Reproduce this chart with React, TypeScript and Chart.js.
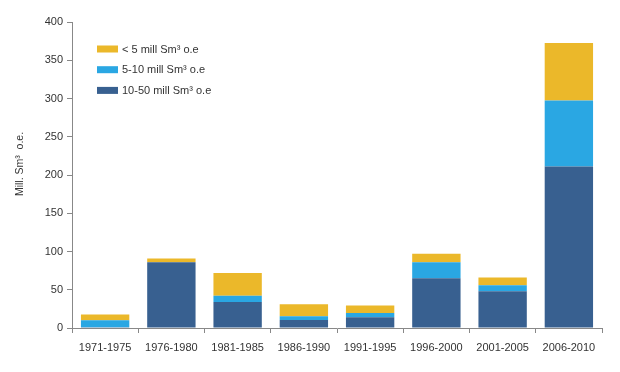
import React, { useEffect, useRef } from "react";
import { Chart, registerables } from "chart.js";

Chart.register(...registerables);

const categories = ["1971-1975", "1976-1980", "1981-1985", "1986-1990", "1991-1995", "1996-2000", "2001-2005", "2006-2010"];
const large = [1, 86, 34, 10.5, 14, 65, 48, 211];
const medium = [9, 0, 8, 5, 5.5, 21, 8, 86.5];
const small = [7.5, 5, 30, 15.5, 10, 11, 10, 75];
const yTicks = [0, 50, 100, 150, 200, 250, 300, 350, 400];

const seriesNames = ["10-50 mill Sm³ o.e", "5-10 mill Sm³ o.e", "< 5 mill Sm³ o.e"];
const colors = ["#386090", "#2AA7E3", "#EBB82A"];
const yTitle = "Mill. Sm³  o.e.";

const FONT = "'Liberation Sans', Arial, sans-serif";

const overlayPlugin = {
  id: "overlay",
  afterDraw(chart: any) {
    const ctx = chart.ctx;
    ctx.save();
    // legend (reverse order: top is smallest field size)
    const rows = [2, 1, 0];
    rows.forEach((idx, i) => {
      const y = 49 + i * 20.7;
      ctx.fillStyle = colors[idx];
      ctx.fillRect(97, y - 3.5, 21, 7);
      ctx.fillStyle = "#333333";
      ctx.font = `11px ${FONT}`;
      ctx.textBaseline = "middle";
      ctx.textAlign = "left";
      ctx.fillText(seriesNames[idx], 122, y + 0.5);
    });
    // y title
    ctx.translate(20, 164);
    ctx.rotate(-Math.PI / 2);
    ctx.font = `10.5px ${FONT}`;
    ctx.textAlign = "center";
    ctx.textBaseline = "middle";
    ctx.fillStyle = "#333333";
    ctx.fillText(yTitle, 0, 0);
    ctx.restore();
  },
};

export default function App() {
  const ref = useRef<HTMLCanvasElement>(null);
  useEffect(() => {
    document.body.style.margin = "0";
    const chart = new Chart(ref.current!, {
      type: "bar",
      data: {
        labels: categories,
        datasets: [
          { label: seriesNames[0], data: large, backgroundColor: colors[0] },
          { label: seriesNames[1], data: medium, backgroundColor: colors[1] },
          { label: seriesNames[2], data: small, backgroundColor: colors[2] },
        ],
      },
      options: {
        animation: false,
        responsive: false,
        devicePixelRatio: 1,
        datasets: { bar: { categoryPercentage: 1, barPercentage: 0.73, borderWidth: 0 } },
        layout: { padding: { top: 22, right: 18, left: 0, bottom: 0 } },
        plugins: { legend: { display: false }, tooltip: { enabled: false } },
        scales: {
          x: {
            stacked: true,
            grid: { display: true, drawOnChartArea: false, offset: true, tickLength: 5, color: "#888888" },
            border: { display: true, color: "#888888", width: 1 },
            ticks: { color: "#333333", font: { family: FONT, size: 11 }, padding: 8, maxRotation: 0 },
            afterFit: (s: any) => { s.height = 44; },
          },
          y: {
            stacked: true,
            min: 0,
            max: 400,
            afterBuildTicks: (s: any) => { s.ticks = yTicks.map((v) => ({ value: v })); },
            grid: { display: true, drawOnChartArea: false, tickLength: 5, color: "#888888" },
            border: { display: true, color: "#888888", width: 1 },
            ticks: { color: "#333333", font: { family: FONT, size: 11 }, padding: 4 },
            afterFit: (s: any) => { s.width = 72; },
          },
        },
      },
      plugins: [overlayPlugin],
    });
    return () => chart.destroy();
  }, []);
  return (
    <div style={{ position: "absolute", left: 0, top: 0, width: 620, height: 372 }}>
      <canvas ref={ref} width={620} height={372} style={{ width: 620, height: 372 }} />
    </div>
  );
}
